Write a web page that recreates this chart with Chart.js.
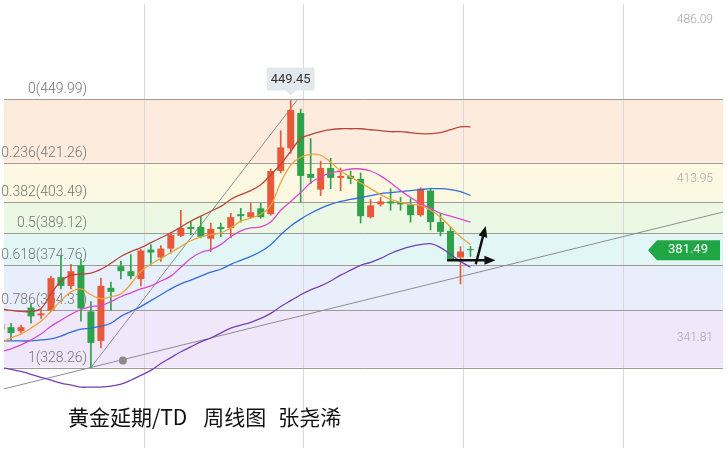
<!DOCTYPE html>
<html>
  <head>
    <meta charset="utf-8">
    <title>黄金延期/TD 周线图</title>
    <style>
      body { margin: 0; background: #fff; }
      #wrap { position: relative; width: 727px; height: 452px; overflow: hidden; }
      #title { position: absolute; left: 68px; top: 406px; font: 21px/21px "Noto Sans CJK SC", sans-serif; color: #111; white-space: nowrap; }
    </style>
  </head>
  <script src="https://cdn.jsdelivr.net/npm/chart.js@4/dist/chart.umd.min.js"></script>
  <body>
    <div id="wrap">
      <canvas id="myChart" width="727" height="452"></canvas>
      <div id="title"><span>黄金延期/TD</span><span style="margin-left:16px">周线图</span><span style="margin-left:12px">张尧浠</span></div>
    </div>

    <script>
      // weekly candles (red = up, green = down)
      const weeks = [0,1,2,3,4,5,6,7,8,9,10,11,12,13,14,15,16,17,18,19,20,21,22,23,24,25,26,27,28,29,30,31,32,33,34,35,36,37,38,39,40,41,42,43,44,45,46,47]
      const open  = [345.67,346.56,344.78,355.48,351.91,354.14,369.30,365.29,374.65,353.70,340.32,364.40,374.20,371.97,368.41,381.78,378.22,382.23,388.02,392.04,392.04,386.69,392.04,391.59,397.83,396.49,400.51,397.83,417.45,427.70,443.75,416.11,408.98,418.78,414.33,415.22,413.88,396.49,402.29,403.63,403.18,402.29,397.39,408.53,394.26,390.25,378.22,381.78]
      const high  = [349.68,348.35,347.46,357.26,354.59,369.75,378.66,375.10,377.32,358.16,368.85,367.07,376.43,379.55,381.78,384.01,383.57,389.36,399.61,394.26,396.49,393.82,393.82,398.28,400.51,402.74,402.74,418.34,435.72,449.45,445.53,432.16,421.90,423.24,418.78,417.45,416.55,404.52,405.41,409.42,405.41,404.96,409.87,409.42,398.28,392.04,383.12,383.12]
      const low   = [343.89,340.77,343.89,348.35,350.58,353.70,363.95,363.95,349.24,328.26,337.20,354.14,368.41,368.41,365.29,375.10,376.43,380.00,387.58,388.47,387.13,380.89,387.58,387.13,394.26,396.05,396.05,397.39,416.55,425.47,403.18,411.65,406.30,409.42,408.53,411.65,393.82,396.05,401.40,399.61,399.61,394.26,396.94,390.70,388.02,377.32,366.18,378.66]
      const close = [347.90,343.89,346.56,351.47,352.81,368.85,365.29,371.97,355.03,339.43,365.29,362.61,371.97,369.75,381.34,380.45,382.23,388.47,391.59,391.14,387.58,391.14,391.14,396.49,396.94,398.72,396.49,417.45,428.15,445.09,415.22,414.33,418.78,414.33,415.22,413.88,396.94,401.84,403.63,402.74,402.29,397.39,409.42,394.26,389.81,377.32,380.89,381.49]

      // indicator lines
      const ma5   = [339.43,341.66,343.44,346.12,349.24,353.69,358.60,362.61,363.95,361.27,359.49,360.38,361.72,366.18,371.97,375.09,377.77,380.44,383.12,385.79,387.58,388.47,389.36,391.59,394.71,396.05,397.83,401.84,412.09,420.12,423.69,425.02,424.58,421.46,417.44,414.77,412.09,409.42,406.74,404.52,403.18,402.29,401.84,399.61,396.49,392.03,387.58,384.01]
      const ma10  = [335.42,336.75,338.54,340.77,343.44,347.01,349.68,352.36,354.59,355.92,356.37,358.15,360.38,362.16,363.95,365.29,367.51,369.74,373.76,377.77,380.44,381.78,384.01,387.58,390.25,391.59,392.03,394.26,399.61,403.62,407.64,412.09,414.77,416.55,417.44,418.34,418.34,417.44,415.21,412.09,408.53,405.41,402.73,400.50,398.27,396.94,395.60,394.26]
      const ma20  = [340.32,340.32,340.32,340.32,340.77,341.21,342.55,344.33,345.67,346.12,347.01,348.34,351.47,353.69,355.92,358.60,361.27,363.95,366.18,367.96,369.74,371.53,372.86,375.09,376.88,378.66,380.89,384.01,388.47,392.48,395.60,398.27,400.50,402.29,403.62,404.52,405.41,406.30,407.19,407.64,408.08,408.53,408.97,409.42,409.42,408.97,408.08,406.30]
      const bollUp  = [355.03,354.14,353.69,353.69,355.03,361.72,367.51,370.19,370.63,371.08,372.86,375.54,378.66,380.89,382.67,384.90,387.13,389.36,392.03,394.71,396.94,399.17,401.40,404.52,406.74,408.53,411.20,415.66,420.56,426.36,432.16,433.94,435.28,436.17,436.61,436.61,436.61,436.17,435.72,435.28,435.28,434.83,434.38,434.38,434.83,436.17,437.50,437.50]
      const bollLow = [328.28,327.39,326.50,325.16,323.83,322.49,321.15,320.26,319.37,319.37,319.37,319.81,320.71,322.49,324.72,326.95,330.07,332.74,335.42,337.65,339.87,341.66,343.89,346.12,347.45,348.79,350.57,352.80,355.92,358.60,361.27,363.50,365.29,367.51,370.19,372.42,374.65,375.98,377.77,380.00,381.78,383.12,384.01,384.45,382.67,379.55,376.43,373.76]

      // fibonacci retracement
      const fibRatios = ['0','0.236','0.382','0.5','0.618','0.786','1']
      const fibPrices = [449.99,421.26,403.49,389.12,374.76,354.31,328.26]

      // drawn trend lines, marks and axis labels
      const trendShallow = [{x: 0, y: 318.23}, {x: 73, y: 399.62}]
      const trendSteep = [{x: 9, y: 328.26}, {x: 29.7, y: 449.99}]
      const dotMark = [{x: 12.2, y: 331.41}]
      const arrows = [[44.66, 376.88, 49.5, 376.88], [47.53, 375.10, 48.52, 392.48]]
      const rightTicks = [486.09, 413.95, 341.81]
      const gridWeeks = [14.36, 30.30, 46.34, 62.28]
      const lastPrice = 381.49
      const peakWeek = 29

      const RED = '#e8593a'
      const GREEN = '#2ea24a'
      const bandColors = ['#fdebdd', '#fdf8e2', '#ebf8e3', '#e3f6f6', '#e9eefc', '#f1e7fb']
      const colorOf = (i) => close[i] >= open[i] ? RED : GREEN

      function arrow(ctx, x1, y1, x2, y2){
        const a = Math.atan2(y2 - y1, x2 - x1)
        ctx.beginPath()
        ctx.moveTo(x1, y1)
        ctx.lineTo(x2 - 8 * Math.cos(a), y2 - 8 * Math.sin(a))
        ctx.stroke()
        ctx.beginPath()
        ctx.moveTo(x2, y2)
        ctx.lineTo(x2 - 11 * Math.cos(a) + 4.5 * Math.sin(a), y2 - 11 * Math.sin(a) - 4.5 * Math.cos(a))
        ctx.lineTo(x2 - 11 * Math.cos(a) - 4.5 * Math.sin(a), y2 - 11 * Math.sin(a) + 4.5 * Math.cos(a))
        ctx.closePath()
        ctx.fill()
      }

      const fibPlugin = {
        id: 'fib',
        beforeDraw(chart){
          const {ctx, chartArea: a, scales: {y}} = chart
          ctx.save()
          ctx.fillStyle = '#fff'
          ctx.fillRect(0, 0, chart.width, chart.height)
          for (let i = 0; i < fibPrices.length - 1; i++){
            const y1 = y.getPixelForValue(fibPrices[i])
            const y2 = y.getPixelForValue(fibPrices[i + 1])
            ctx.fillStyle = bandColors[i]
            ctx.fillRect(a.left, y1, a.right - a.left, y2 - y1)
          }
          ctx.restore()
        },
        beforeDatasetsDraw(chart){
          const {ctx, chartArea: a, scales: {y}} = chart
          ctx.save()
          ctx.strokeStyle = '#a39994'
          ctx.lineWidth = 1
          ctx.font = '300 14px Roboto, "Liberation Sans", sans-serif'
          ctx.fillStyle = '#757575'
          ctx.textAlign = 'right'
          ctx.textBaseline = 'middle'
          fibPrices.forEach((p, i) => {
            const py = Math.round(y.getPixelForValue(p)) + 0.5
            ctx.beginPath()
            ctx.moveTo(a.left, py)
            ctx.lineTo(a.right, py)
            ctx.stroke()
            ctx.fillText(fibRatios[i] + '(' + p.toFixed(2) + ')', 87, py - 10)
          })
          ctx.font = '300 12px Roboto, "Liberation Sans", sans-serif'
          ctx.fillStyle = '#a8a8a8'
          rightTicks.forEach(t => ctx.fillText(t.toFixed(2), 713, y.getPixelForValue(t)))
          ctx.restore()
        },
        afterDatasetsDraw(chart){
          const {ctx, scales: {x, y}} = chart
          ctx.save()
          // arrows
          ctx.strokeStyle = '#111'
          ctx.fillStyle = '#111'
          ctx.lineWidth = 2.5
          arrows.forEach(r => arrow(ctx, x.getPixelForValue(r[0]), y.getPixelForValue(r[1]), x.getPixelForValue(r[2]), y.getPixelForValue(r[3])))

          // peak label
          const px = x.getPixelForValue(peakWeek)
          const py = y.getPixelForValue(high[peakWeek])
          ctx.fillStyle = 'rgba(226,231,236,0.95)'
          ctx.beginPath()
          ctx.roundRect(px - 24, py - 33, 48, 23, 2)
          ctx.moveTo(px - 5, py - 10)
          ctx.lineTo(px, py - 5)
          ctx.lineTo(px + 5, py - 10)
          ctx.fill()
          ctx.fillStyle = '#333'
          ctx.font = '13px Roboto, "Liberation Sans", sans-serif'
          ctx.textAlign = 'center'
          ctx.textBaseline = 'middle'
          ctx.fillText(high[peakWeek].toFixed(2), px, py - 21)

          // last price tag
          const ly = y.getPixelForValue(lastPrice)
          ctx.fillStyle = '#20a645'
          ctx.beginPath()
          ctx.moveTo(648, ly)
          ctx.lineTo(657, ly - 10)
          ctx.lineTo(720, ly - 10)
          ctx.lineTo(720, ly + 10)
          ctx.lineTo(657, ly + 10)
          ctx.closePath()
          ctx.fill()
          ctx.fillStyle = '#fff'
          ctx.fillText(lastPrice.toFixed(2), 688, ly)
          ctx.restore()
        }
      }

      const xy = (arr) => arr.map((v, i) => ({x: weeks[i], y: v}))
      const maLine = (data, color) => ({
        type: 'line', data: xy(data), borderColor: color, borderWidth: 1.3,
        pointRadius: 0, tension: 0.4, order: 0
      })

      new Chart('myChart', {
        type: 'bar',
        data: {
          datasets: [
            maLine(ma5, '#eda43a'),
            maLine(ma10, '#d848d2'),
            maLine(ma20, '#2f6ed6'),
            maLine(bollUp, '#b9463c'),
            maLine(bollLow, '#7541b5'),
            {
              type: 'bar', data: weeks.map((w, i) => ({x: w, y: [open[i], close[i]]})),
              backgroundColor: weeks.map((w, i) => colorOf(i)),
              barPercentage: 0.7, categoryPercentage: 1, grouped: false, minBarLength: 1, order: 1
            },
            {
              type: 'bar', data: weeks.map((w, i) => ({x: w, y: [low[i], high[i]]})),
              backgroundColor: weeks.map((w, i) => colorOf(i)),
              barThickness: 1, grouped: false, order: 2
            },
            { type: 'line', data: trendShallow, borderColor: '#8e8e8e', borderWidth: 1, pointRadius: 0, order: 3 },
            { type: 'line', data: trendSteep, borderColor: '#8e8e8e', borderWidth: 1, pointRadius: 0, order: 3 },
            { type: 'line', data: dotMark, showLine: false, pointRadius: 4, pointBackgroundColor: '#8a8a8a', pointBorderWidth: 0, order: 3 }
          ]
        },
        options: {
          responsive: false,
          animation: false,
          devicePixelRatio: 1,
          layout: { padding: 0 },
          plugins: { legend: { display: false }, tooltip: { enabled: false } },
          scales: {
            x: {
              type: 'linear', min: 0.297, max: 72.28, offset: false,
              afterBuildTicks: (axis) => { axis.ticks = gridWeeks.map(v => ({value: v})) },
              ticks: { display: false },
              grid: { color: '#d9d9d9', drawTicks: false, offset: false },
              border: { display: false }
            },
            y: { display: false, min: 291.73, max: 493.23 }
          }
        },
        plugins: [fibPlugin]
      })
    </script>
  </body>
</html>
